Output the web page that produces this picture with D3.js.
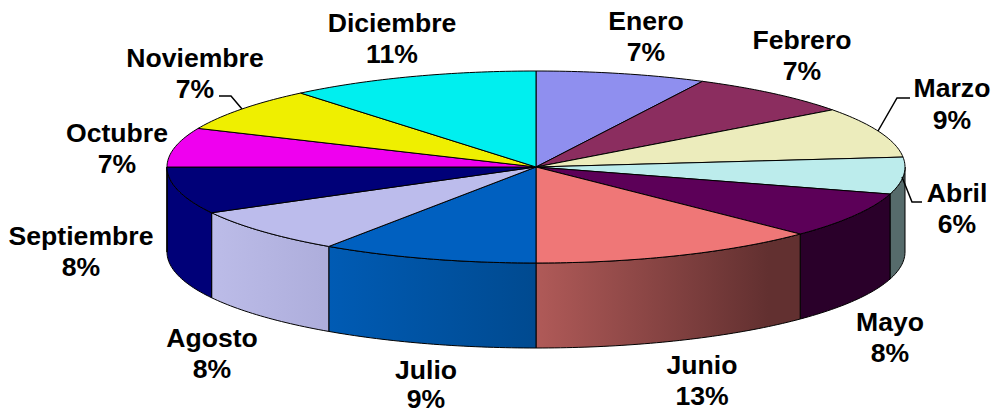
<!DOCTYPE html>
<html><head><meta charset="utf-8">
<script src="https://cdn.jsdelivr.net/npm/d3@7/dist/d3.min.js"></script>
<style>html,body{margin:0;padding:0;background:#fff}svg{display:block}
text{font-family:"Liberation Sans",Arial,sans-serif;font-weight:700;font-size:26.6px;fill:#000;text-anchor:middle}</style>
</head><body><script>
const months = ["Enero","Febrero","Marzo","Abril","Mayo","Junio","Julio","Agosto","Septiembre","Octubre","Noviembre","Diciembre"];
const shares = [7.45,7.4,8.5,6.2,7.75,12.7,9.49,7.6,7.9,6.6,7.4,11.01];
const topColors = ["#8f8fef","#8b2d5f","#ececbc","#bcecec","#5c0058","#ef7777","#0060c0","#bcbcec","#000078","#ef00ef","#efef00","#00efef"];
const sideLeft  = {3:"#566b6b",4:"#2a002a",5:"#b05a58",6:"#005bb4",7:"#bcbce8",8:"#000078"};
const sideRight = {3:"#566b6b",4:"#2a002a",5:"#623030",6:"#004a90",7:"#aeaedc",8:"#000078"};
const sideHold  = {3:0,4:0,5:0.12,6:0,7:0.05,8:0};
const labelX = [646,802,952,957,890,702,426,212,81,117,195,392];
const labelY = [30,49,97,202,331,374,379,347,245,142,67,32];
const valueGap = [31,31,32,31,31,31,29,31,31,31,31,31];
const leaders = [[[878,131],[897,98],[910,98]],[[902,177],[912,202],[922,202]],[[242,109],[231,96],[219,96]]];

const W=996,H=414,depth=85;
const sx=d3.scaleLinear([-1,1],[167,905]), sy=d3.scaleLinear([-1,1],[71,263]);
const svg=d3.select("body").append("svg").attr("width",W).attr("height",H);
const defs=svg.append("defs");
const arcs=d3.pie().sort(null).value(d=>d)(shares);
const pt=a=>[sx(Math.sin(a)),sy(-Math.cos(a))];
const samples=(a0,a1)=>{const n=Math.max(2,Math.ceil((a1-a0)*60));return d3.range(n+1).map(i=>pt(a0+(a1-a0)*i/n));};
const line=d3.line();

// side walls: the part of each slice on the front half
arcs.forEach((d,i)=>{
  const a0=Math.max(d.startAngle,Math.PI/2),a1=Math.min(d.endAngle,Math.PI*1.5);
  if(a1<=a0)return;
  const up=samples(a0,a1), down=up.map(p=>[p[0],p[1]+depth]).reverse();
  const xs=up.map(p=>p[0]);
  const g=defs.append("linearGradient").attr("id","g"+i).attr("gradientUnits","userSpaceOnUse")
    .attr("x1",d3.min(xs)).attr("x2",d3.max(xs)).attr("y1",0).attr("y2",0);
  g.append("stop").attr("offset",0).attr("stop-color",sideLeft[i]);
  g.append("stop").attr("offset",1-sideHold[i]).attr("stop-color",sideRight[i]);
  svg.append("path").attr("d",line(up.concat(down))+"Z").attr("fill",`url(#g${i})`)
    .attr("stroke","#000").attr("stroke-width",1).attr("stroke-linejoin","round");
});

// top face
arcs.forEach((d,i)=>{
  const c=[sx(0),sy(0)];
  svg.append("path").attr("d",line([c].concat(samples(d.startAngle,d.endAngle)))+"Z")
    .attr("fill",topColors[i]).attr("stroke","#000").attr("stroke-width",1).attr("stroke-linejoin","round");
});

// leader lines
leaders.forEach(l=>svg.append("path").attr("d",line(l)).attr("fill","none").attr("stroke","#000").attr("stroke-width",1.5));

// labels
months.forEach((m,i)=>{
  svg.append("text").attr("x",labelX[i]).attr("y",labelY[i]).text(m);
  svg.append("text").attr("x",labelX[i]).attr("y",labelY[i]+valueGap[i]).text(Math.round(shares[i])+"%");
});
</script></body></html>
